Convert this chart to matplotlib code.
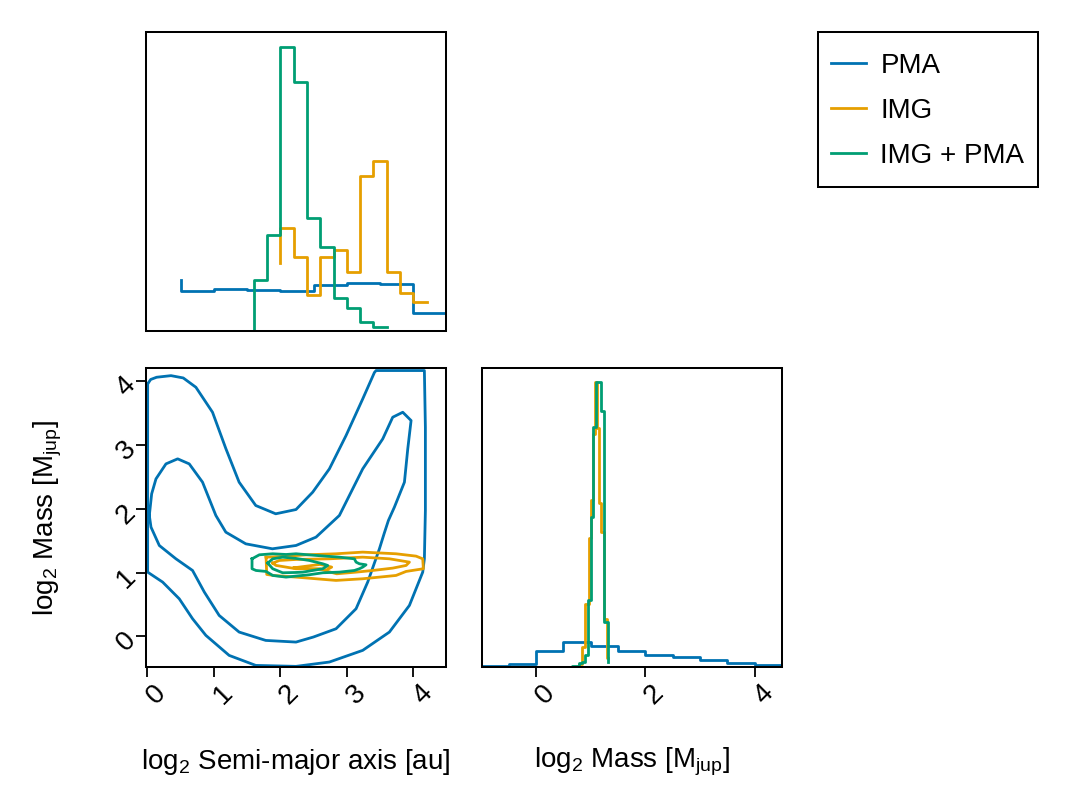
import matplotlib
matplotlib.use("Agg")
import matplotlib.pyplot as plt
from matplotlib.lines import Line2D
from matplotlib.patches import Rectangle

# == STYLE ================================================================== #
plt.rcParams['font.family'] = ['Liberation Sans', 'DejaVu Sans']
plt.rcParams['mathtext.fontset'] = 'custom'
plt.rcParams['mathtext.rm'] = 'Liberation Sans'
plt.rcParams['mathtext.it'] = 'Liberation Sans:italic'
plt.rcParams['font.size'] = 20
plt.rcParams['lines.solid_joinstyle'] = 'round'

C_PMA = '#0072B2'
C_IMG = '#E69F00'
C_BOTH = '#009E73'
LW = 2.0

labels = ['PMA', 'IMG', 'IMG + PMA']

# == DATA =================================================================== #
# marginal histogram of log2 semi-major axis (steps-pre points, relative height)
a_x_pma = [0.5, 1.0, 1.5, 2.0, 2.5, 3.0, 3.5, 4.0, 4.5]
a_h_pma = [0.170, 0.134, 0.142, 0.137, 0.134, 0.153, 0.159, 0.157, 0.059]
a_x_img = [2.0, 2.2, 2.4, 2.6, 2.8, 3.0, 3.2, 3.4, 3.6, 3.8, 4.0, 4.2]
a_h_img = [0.226, 0.346, 0.248, 0.122, 0.248, 0.270, 0.198, 0.520, 0.570,
           0.198, 0.126, 0.098]
a_x_both = [1.6, 1.8, 2.0, 2.2, 2.4, 2.6, 2.8, 3.0, 3.2, 3.4, 3.6]
a_h_both = [0.0, 0.172, 0.320, 0.950, 0.833, 0.379, 0.281, 0.109, 0.076,
            0.031, 0.012]

# marginal histogram of log2 mass
m_x_pma = [-1.0, -0.5, 0.0, 0.5, 1.0, 1.5, 2.0, 2.5, 3.0, 3.5, 4.0, 4.5]
m_h_pma = [0.002, 0.002, 0.011, 0.052, 0.084, 0.070, 0.052, 0.041, 0.033,
           0.024, 0.013, 0.008]
m_x_img = [0.78, 0.837, 0.898, 0.959, 1.001, 1.035, 1.07, 1.11, 1.15, 1.185,
           1.25, 1.30, 1.32]
m_h_img = [0.0, 0.010, 0.067, 0.21, 0.43, 0.56, 0.78, 0.954, 0.80, 0.55,
           0.45, 0.16, 0.03]
m_x_both = [0.66, 0.72, 0.78, 0.84, 0.888, 0.947, 0.998, 1.038, 1.093, 1.139,
            1.185, 1.251, 1.313, 1.32]
m_h_both = [0.0, 0.002, 0.005, 0.012, 0.016, 0.039, 0.223, 0.503, 0.802,
            0.952, 0.952, 0.857, 0.150, 0.017]

# 2D credible contours (log2 a, log2 m)
pma_outer_x = [0.005, 0.05, 0.14, 0.356, 0.54, 0.73, 0.98, 1.18, 1.38, 1.63,
               1.93, 2.235, 2.486, 2.737, 2.987, 3.238, 3.414, 3.439, 4.165,
               4.18, 4.18, 4.165, 4.14, 3.94, 3.639, 3.238, 2.737, 2.235,
               1.63, 1.23, 0.88, 0.68, 0.48, 0.23, 0.005, 0.005]
pma_outer_y = [3.96, 4.03, 4.065, 4.09, 4.054, 3.908, 3.516, 2.947, 2.419,
               2.053, 1.923, 1.99, 2.262, 2.628, 3.15, 3.725, 4.14, 4.17, 4.17,
               3.28, 1.975, 1.217, 1.008, 0.486, 0.068, -0.219, -0.402, -0.47,
               -0.455, -0.298, 0.016, 0.277, 0.59, 0.852, 1.008, 3.96]
pma_inner_x = [0.03, 0.065, 0.13, 0.28, 0.456, 0.63, 0.83, 1.03, 1.18, 1.48,
               1.88, 2.235, 2.536, 2.887, 3.238, 3.539, 3.689, 3.84, 3.965,
               3.915, 3.865, 3.714, 3.624, 3.559, 3.489, 3.313, 3.138, 2.837,
               2.496, 2.235, 1.78, 1.38, 1.08, 0.857, 0.68, 0.43, 0.18, 0.055,
               0.03]
pma_inner_y = [1.897, 2.236, 2.471, 2.706, 2.785, 2.706, 2.419, 1.897, 1.635,
               1.452, 1.374, 1.426, 1.557, 1.897, 2.628, 3.098, 3.438, 3.516,
               3.386, 2.94, 2.419, 2.027, 1.818, 1.609, 1.374, 0.852, 0.434,
               0.12, -0.01, -0.089, -0.063, 0.068, 0.329, 0.695, 1.034, 1.217,
               1.426, 1.714, 1.897]
img_outer_x = [1.785, 2.045, 2.396, 2.837, 3.238, 3.739, 4.04, 4.14, 4.15,
               3.89, 3.739, 3.489, 3.238, 2.837, 2.536, 2.235, 1.895, 1.795,
               1.785]
img_outer_y = [1.243, 1.254, 1.28, 1.296, 1.322, 1.296, 1.259, 1.217, 1.061,
               1.019, 0.956, 0.93, 0.904, 0.878, 0.904, 0.93, 0.956, 0.972,
               1.243]
img_inner_x = [1.885, 1.985, 2.235, 2.737, 3.238, 3.639, 3.94, 3.89, 3.689,
               3.388, 3.138, 2.847, 2.697, 2.596, 2.396, 2.235, 2.085, 1.935,
               1.885]
img_inner_y = [1.149, 1.191, 1.207, 1.217, 1.243, 1.217, 1.165, 1.113, 1.071,
               1.034, 1.008, 0.982, 1.024, 1.061, 1.061, 1.061, 1.087, 1.113,
               1.149]
img_core_x = [2.206, 2.396, 2.596, 2.772, 2.697, 2.496, 2.206]
img_core_y = [1.076, 1.102, 1.129, 1.087, 1.045, 1.055, 1.076]
both_outer_x = [1.574, 1.684, 1.885, 2.085, 2.235, 2.536, 2.887, 3.113, 3.138,
                3.188, 3.288, 3.238, 3.188, 3.113, 2.887, 2.637, 2.436, 2.235,
                2.085, 1.885, 1.785, 1.634, 1.574, 1.574]
both_outer_y = [1.217, 1.28, 1.296, 1.285, 1.296, 1.27, 1.243, 1.217, 1.165,
                1.139, 1.123, 1.087, 1.061, 1.034, 1.008, 0.998, 0.967, 0.946,
                0.93, 0.956, 1.019, 1.034, 1.061, 1.217]
both_inner_x = [1.81, 1.885, 2.035, 2.235, 2.436, 2.637, 2.712, 2.637, 2.486,
                2.336, 2.235, 2.035, 1.885, 1.81]
both_inner_y = [1.149, 1.217, 1.243, 1.223, 1.191, 1.139, 1.113, 1.061, 1.034,
                1.008, 1.003, 0.998, 1.061, 1.149]

a_lim = (-0.02, 4.49)
m_lim_2d = (-0.48, 4.21)
m_lim_hist = (-0.99, 4.5)

# == FIGURE ================================================================= #
W, H = 1070, 808
fig = plt.figure(figsize=(W / 100, H / 100), dpi=100)

def px_axes(l, t, r, b):
    return fig.add_axes([l / W, 1 - b / H, (r - l) / W, (b - t) / H])

ax_top = px_axes(146, 32, 446, 331)
ax_2d = px_axes(146, 368, 446, 667)
ax_rt = px_axes(482, 368, 782, 667)

for ax in (ax_top, ax_2d, ax_rt):
    for sp in ax.spines.values():
        sp.set_linewidth(1.45)
    ax.tick_params(direction='out', length=7.2, width=1.3, labelsize=20)
    ax.tick_params(axis='x', pad=6)
    ax.tick_params(axis='y', pad=3)

# top marginal
ax_top.plot(a_x_pma, a_h_pma, drawstyle='steps-pre', color=C_PMA, lw=LW)
ax_top.plot(a_x_img, a_h_img, drawstyle='steps-pre', color=C_IMG, lw=LW)
ax_top.plot(a_x_both, a_h_both, drawstyle='steps-pre', color=C_BOTH, lw=LW)
ax_top.set_xlim(*a_lim)
ax_top.set_ylim(0, 1)
ax_top.set_xticks([])
ax_top.set_yticks([])

# right marginal
ax_rt.plot(m_x_pma, m_h_pma, drawstyle='steps-pre', color=C_PMA, lw=LW)
ax_rt.plot(m_x_img, m_h_img, drawstyle='steps-pre', color=C_IMG, lw=LW)
ax_rt.plot(m_x_both, m_h_both, drawstyle='steps-pre', color=C_BOTH, lw=LW)
ax_rt.set_xlim(*m_lim_hist)
ax_rt.set_ylim(0, 1)
ax_rt.set_yticks([])
ax_rt.set_xticks([0, 2, 4])

# 2D contours
ax_2d.plot(pma_outer_x, pma_outer_y, color=C_PMA, lw=LW)
ax_2d.plot(pma_inner_x, pma_inner_y, color=C_PMA, lw=LW)
ax_2d.plot(img_outer_x, img_outer_y, color=C_IMG, lw=LW)
ax_2d.plot(img_inner_x, img_inner_y, color=C_IMG, lw=LW)
ax_2d.plot(img_core_x, img_core_y, color=C_IMG, lw=LW)
ax_2d.plot(both_outer_x, both_outer_y, color=C_BOTH, lw=LW)
ax_2d.plot(both_inner_x, both_inner_y, color=C_BOTH, lw=LW)
ax_2d.set_xlim(*a_lim)
ax_2d.set_ylim(*m_lim_2d)
ax_2d.set_xticks([0, 1, 2, 3, 4])
ax_2d.set_yticks([0, 1, 2, 3, 4])

# rotated tick labels, turned about their anchor point
for ax in (ax_2d, ax_rt):
    for lab in ax.get_xticklabels():
        lab.set_rotation(45)
        lab.set_rotation_mode('anchor')
        lab.set_ha('center')
        lab.set_va('top')
for lab in ax_2d.get_yticklabels():
    lab.set_rotation(45)
    lab.set_rotation_mode('anchor')
    lab.set_ha('right')
    lab.set_va('center')

# axis labels
fig.text(296 / W, 1 - 762 / H, r'log$_2$ Semi-major axis [au]',
         ha='center', va='center', fontsize=20)
fig.text(632 / W, 1 - 762 / H, r'log$_2$ Mass [M$_\mathrm{jup}$]',
         ha='center', va='center', fontsize=20)
fig.text(48 / W, 1 - 518 / H, r'log$_2$ Mass [M$_\mathrm{jup}$]',
         ha='center', va='center', rotation=90, fontsize=20)

# legend (frame drawn separately so the padding matches)
fig.patches.append(Rectangle((818 / W, 1 - 187 / H), 220 / W, 155 / H,
                             transform=fig.transFigure, fill=False,
                             edgecolor='black', lw=1.45))
handles = [Line2D([], [], color=c, lw=LW) for c in (C_PMA, C_IMG, C_BOTH)]
leg = fig.legend(handles, labels, loc='center left',
                 bbox_to_anchor=(818 / W, 1 - 111 / H), borderaxespad=0,
                 fontsize=20, frameon=False,
                 handlelength=1.26, handletextpad=0.54, labelspacing=0.68,
                 borderpad=0.45)

fig.savefig('out.png', dpi=100)
